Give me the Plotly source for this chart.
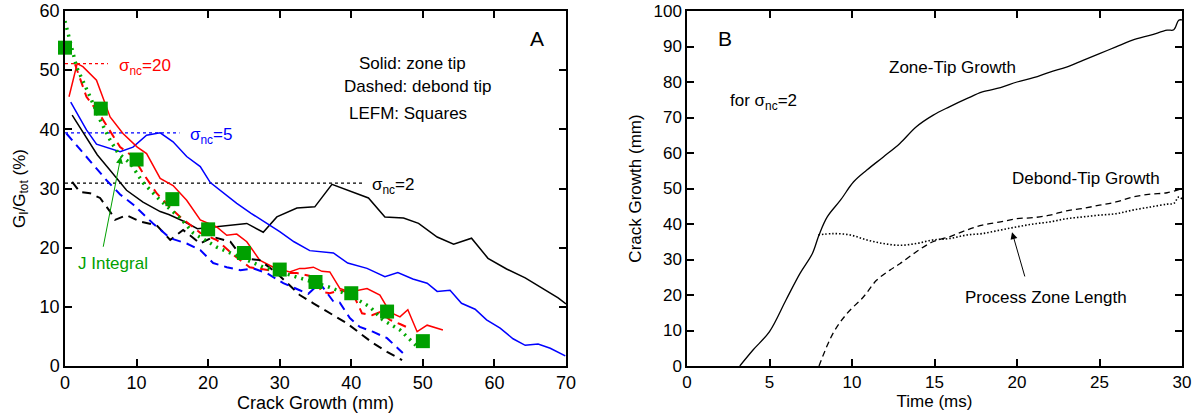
import plotly.graph_objects as go

# ---------------- Panel A data ----------------
black_zone_x = [1.0, 2.0, 3.2, 4.5, 6.3, 8.6, 10.9, 13.3, 14.5, 16.5, 18.5, 20.7, 23.0, 25.4, 27.7, 29.6, 32.4, 34.9, 37.3, 42.4, 44.7, 47.3, 49.4, 52.0, 54.3, 56.8, 59.1, 61.7, 64.3, 66.8, 68.9, 70.0]
black_zone_y = [42.4, 40.5, 38.2, 35.7, 33.1, 29.7, 27.7, 26.1, 25.6, 24.5, 23.2, 23.5, 23.8, 24.1, 22.6, 25.2, 26.7, 26.9, 30.7, 28.4, 25.2, 25.0, 24.1, 21.8, 20.6, 21.6, 18.2, 16.4, 14.9, 13.1, 11.5, 10.5]

black_debond_x = [1.0, 2.1, 3.5, 4.9, 6.3, 7.0, 8.6, 10.5, 12.8, 14.7, 16.5, 18.9, 20.7, 23.1, 24.9, 27.2, 29.6, 32.8, 34.7, 37.0, 39.4, 43.0, 45.0, 47.1]
black_debond_y = [31.1, 29.4, 29.2, 28.4, 26.1, 24.7, 25.5, 24.4, 23.8, 21.3, 23.0, 20.7, 21.8, 21.0, 18.2, 17.9, 15.7, 12.0, 10.6, 9.0, 7.2, 3.9, 2.4, 1.0]

blue_zone_x = [0.8, 3.0, 4.4, 7.7, 9.5, 11.4, 13.3, 15.1, 17.0, 18.9, 20.3, 22.1, 24.0, 26.0, 28.2, 30.0, 32.0, 34.2, 37.5, 39.5, 42.2, 44.7, 46.5, 48.6, 50.6, 52.0, 53.8, 55.4, 57.3, 58.9, 60.8, 62.6, 64.3, 66.1, 67.8, 69.9]
blue_zone_y = [44.6, 39.9, 37.5, 36.2, 37.0, 39.0, 39.4, 37.9, 35.4, 33.7, 31.0, 29.3, 27.5, 25.8, 24.1, 22.7, 21.0, 19.5, 19.1, 17.4, 16.5, 15.1, 15.8, 14.7, 14.0, 12.6, 12.8, 10.6, 9.6, 7.8, 6.4, 4.6, 3.5, 3.7, 3.0, 1.7]

blue_debond_x = [0.2, 3.0, 5.8, 7.7, 9.6, 12.3, 14.7, 17.0, 18.9, 20.7, 22.6, 24.5, 26.3, 28.2, 30.5, 32.8, 34.0, 35.6, 37.5, 38.4, 39.8, 41.2, 43.0, 45.0, 47.2]
blue_debond_y = [39.3, 35.4, 31.4, 29.0, 27.2, 24.1, 21.6, 20.7, 19.6, 17.4, 16.7, 16.2, 16.5, 15.7, 14.0, 12.8, 12.2, 14.0, 10.9, 10.7, 8.1, 6.6, 5.8, 4.7, 2.2]

red_zone_x = [0.56, 1.7, 2.5, 4.4, 6.3, 8.1, 10.1, 11.4, 13.3, 15.1, 17.0, 18.9, 21.2, 22.6, 24.0, 25.4, 27.2, 29.1, 30.5, 31.4, 32.8, 33.5, 34.7, 35.9, 37.0, 38.4, 39.8, 42.2, 44.0, 45.4, 46.8, 47.9, 49.2, 50.6, 52.8]
red_zone_y = [45.5, 51.1, 50.6, 48.3, 42.1, 39.3, 37.0, 35.9, 31.7, 30.5, 28.0, 24.7, 23.5, 22.1, 22.3, 21.0, 17.9, 16.7, 16.2, 15.9, 16.5, 16.5, 16.7, 16.0, 15.9, 13.1, 12.5, 13.1, 12.0, 9.1, 8.3, 9.5, 5.8, 6.9, 6.1]

red_debond_x = [1.4, 3.0, 4.9, 6.3, 7.7, 9.5, 10.9, 12.8, 14.5, 16.1, 18.9, 21.2, 23.5, 25.8, 28.2, 31.0, 32.4, 34.7, 35.9, 37.0, 38.4, 40.2, 41.5, 42.9, 44.0, 45.4, 46.8, 47.7]
red_debond_y = [51.0, 45.5, 42.4, 39.6, 37.0, 35.4, 32.6, 29.2, 27.0, 25.2, 22.5, 21.3, 18.8, 16.7, 16.2, 15.7, 15.7, 15.1, 12.5, 12.3, 12.8, 12.3, 8.9, 8.6, 9.1, 7.8, 7.1, 6.6]

lefm_x = [0, 5, 10, 15, 20, 25, 30, 35, 40, 45, 50]
lefm_y = [53.8, 43.5, 34.9, 28.2, 23.1, 19.1, 16.3, 14.2, 12.3, 9.2, 4.2]

jint_x = [0, 1.6, 3.5, 4.9, 6.3, 7.4, 9.1, 10.9, 13.3, 16.1, 17.9, 21.2, 24.5, 27.7, 31.4, 34.7, 37.0, 40.2, 42.6, 44.4, 46.8, 49.2]
jint_y = [58.3, 50.6, 45.5, 41.6, 38.2, 36.0, 34.3, 31.0, 28.0, 25.0, 22.5, 20.1, 18.4, 16.7, 15.4, 14.2, 13.3, 11.7, 10.0, 7.8, 6.1, 3.3]

# reference (initial) levels
sigma_labels = ["σ<sub>nc</sub>=20", "σ<sub>nc</sub>=5", "σ<sub>nc</sub>=2"]
ref_levels = [51.1, 39.4, 30.9]
ref_xend = [6.0, 16.0, 41.9]
ref_colors = ["#ff0000", "#0000ff", "#000000"]

# ---------------- Panel B data ----------------
zone_t = [3.2, 4.0, 5.0, 6.0, 6.85, 7.6, 8.0, 8.5, 9.3, 10.1, 10.9, 11.9, 12.9, 13.9, 14.9, 15.9, 16.95, 17.9, 19.0, 20.0, 21.0, 22.0, 23.0, 24.0, 25.0, 26.0, 27.0, 28.1, 29.1, 29.5, 29.8, 30.0]
zone_y = [0.0, 4.5, 9.7, 18.6, 26.1, 31.7, 36.9, 42.0, 46.7, 51.9, 55.2, 58.9, 62.7, 67.4, 70.6, 73.0, 75.3, 77.2, 78.4, 80.0, 81.2, 82.8, 84.2, 86.1, 88.0, 89.9, 91.8, 93.2, 94.6, 94.7, 97.4, 97.5]

debond_t = [8.0, 8.85, 9.7, 10.7, 11.5, 12.3, 12.9, 13.9, 14.9, 15.9, 16.95, 17.9, 19.0, 20.0, 21.0, 22.0, 23.0, 24.0, 25.0, 26.0, 27.0, 28.1, 29.1, 30.0]
debond_y = [0.0, 9.2, 14.8, 19.5, 24.2, 27.0, 28.8, 32.2, 35.0, 36.4, 38.3, 39.7, 40.6, 41.5, 41.8, 42.5, 43.7, 44.4, 45.3, 46.2, 47.6, 48.4, 48.8, 50.0]

pz_t = [7.95, 8.85, 9.9, 10.9, 11.9, 12.9, 13.9, 14.9, 15.9, 16.95, 17.9, 19.0, 20.0, 21.0, 22.0, 23.0, 24.0, 25.0, 26.0, 27.0, 28.1, 29.1, 29.5, 29.8, 30.0]
pz_y = [36.9, 37.3, 36.9, 35.5, 34.5, 34.0, 34.5, 35.5, 35.9, 36.9, 37.3, 38.3, 39.2, 40.0, 40.6, 41.5, 42.0, 42.5, 42.9, 43.9, 44.8, 45.6, 45.8, 47.6, 47.1]

FONT = "Liberation Sans, Arial, Helvetica, sans-serif"
fig = go.Figure()

def add(x, y, color, dash="solid", width=1.5, xa="x", ya="y", shape="linear"):
    fig.add_trace(go.Scatter(x=x, y=y, mode="lines", xaxis=xa, yaxis=ya,
                             line=dict(color=color, dash=dash, width=width, shape=shape),
                             showlegend=False, hoverinfo="skip", cliponaxis=False))

for lv, xe, c in zip(ref_levels, ref_xend, ref_colors):
    add([0, xe], [lv, lv], c, dash="dot", width=1.2)

add(black_zone_x, black_zone_y, "black", width=1.5)
add(blue_zone_x, blue_zone_y, "#0000ff", width=1.5)
add(red_zone_x, red_zone_y, "#ff0000", width=1.5)
add(black_debond_x, black_debond_y, "black", dash="9px,6px", width=2)
add(blue_debond_x, blue_debond_y, "#0000ff", dash="9px,6px", width=2)
add(red_debond_x, red_debond_y, "#ff0000", dash="9px,6px", width=2)
add(jint_x, jint_y, "#00a800", dash="2px,5px", width=3.5)

fig.add_trace(go.Scatter(x=lefm_x, y=lefm_y, mode="markers", xaxis="x", yaxis="y",
                         marker=dict(symbol="square", size=14, color="#00a000"),
                         showlegend=False, hoverinfo="skip", cliponaxis=False))

add(zone_t, zone_y, "black", width=1.3, xa="x2", ya="y2", shape="spline")
add(debond_t, debond_y, "black", dash="6px,4px", width=1.3, xa="x2", ya="y2", shape="spline")
add(pz_t, pz_y, "black", dash="1.5px,2px", width=1.6, xa="x2", ya="y2", shape="spline")

# figure fills the page (body margin removed by post_script below)
W, H = 1203, 419
def dx(p):
    return p / W
def dy(p):
    return 1 - p / H

axis_common = dict(showline=True, linecolor="black", linewidth=1.5, mirror="ticks",
                   ticks="inside", ticklen=7, tickwidth=1.5, tickcolor="black",
                   showgrid=False, zeroline=False, automargin=False,
                   ticklabeloverflow="allow")

fig.update_layout(
    width=W, height=H, margin=dict(l=0, r=0, t=0, b=0),
    paper_bgcolor="white", plot_bgcolor="white",
    font=dict(family=FONT, color="black"),
    xaxis=dict(domain=[dx(65), dx(566)], range=[0, 70], tick0=0, dtick=10, anchor="y",
               tickfont=dict(size=18), title=dict(text="Crack Growth (mm)", font=dict(size=18), standoff=4),
               **axis_common),
    yaxis=dict(domain=[dy(366), dy(11)], range=[0, 60], tick0=0, dtick=10, anchor="x",
               tickfont=dict(size=18), title=dict(text="G<sub>I</sub>/G<sub>tot</sub> (%)", font=dict(size=17), standoff=10),
               **axis_common),
    xaxis2=dict(domain=[dx(687), dx(1182)], range=[0, 30], tick0=0, dtick=5, anchor="y2",
                tickfont=dict(size=17), title=dict(text="Time (ms)", font=dict(size=17), standoff=2),
                **axis_common),
    yaxis2=dict(domain=[dy(366), dy(11)], range=[0, 100], tick0=0, dtick=10, anchor="x2",
                tickfont=dict(size=17), title=dict(text="Crack Growth (mm)", font=dict(size=17), standoff=8),
                **axis_common),
)

ann = []
def txt(x, y, s, size=17, color="black", xa="x", ya="y", xanchor="left"):
    ann.append(dict(x=x, y=y, xref=xa, yref=ya, text=s, showarrow=False,
                    font=dict(size=size, color=color, family=FONT), xanchor=xanchor, yanchor="middle"))

txt(7.3, 50.6, sigma_labels[0], color="#ff0000")
txt(17.2, 38.9, sigma_labels[1], color="#0000ff")
txt(42.6, 30.4, sigma_labels[2], color="black")
txt(48.6, 51.2, "Solid: zone tip", xanchor="center")
txt(49.3, 47.3, "Dashed: debond tip", xanchor="center")
txt(47.9, 42.7, "LEFM: Squares", xanchor="center")
txt(66.0, 55.4, "A", size=21, xanchor="center")
txt(1.6, 17.4, "J Integral", color="#00a000")
ann.append(dict(x=7.8, y=35.4, ax=5.3, ay=19.9, xref="x", yref="y", axref="x", ayref="y",
                showarrow=True, arrowhead=2, arrowsize=1.4, arrowwidth=1, arrowcolor="#00a000", text=""))

txt(2.3, 92.3, "B", size=21, xa="x2", ya="y2", xanchor="center")
txt(2.5, 74.4, "for σ<sub>nc</sub>=2", xa="x2", ya="y2")
txt(12.1, 84.2, "Zone-Tip Growth", xa="x2", ya="y2")
txt(19.6, 52.9, "Debond-Tip Growth", xa="x2", ya="y2")
txt(16.7, 19.4, "Process Zone Length", xa="x2", ya="y2")
ann.append(dict(x=19.7, y=37.7, ax=20.5, ay=24.8, xref="x2", yref="y2", axref="x2", ayref="y2",
                showarrow=True, arrowhead=2, arrowsize=1.4, arrowwidth=1, arrowcolor="black", text=""))

fig.update_layout(annotations=ann)
fig.write_html("out.html", config={"displayModeBar": False},
               post_script="document.body.style.margin='0';document.body.style.overflow='hidden';")
